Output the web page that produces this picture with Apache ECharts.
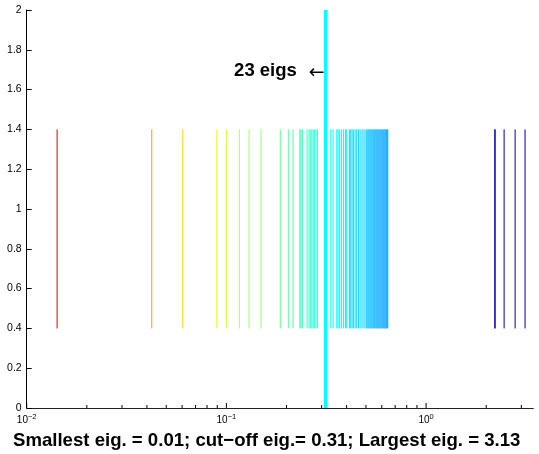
<!DOCTYPE html>
<html><head><meta charset="utf-8">
<script src="https://cdn.jsdelivr.net/npm/echarts@6/dist/echarts.min.js"></script>
<style>html,body{margin:0;padding:0;background:#fff}#c{width:539px;height:454px}</style>
</head><body><div id="c"></div>
<script>
// ---- data ----
const eigenvalues = [
  0.0142, 0.0423, 0.0605, 0.0895, 0.1000, 0.1161, 0.1299, 0.1492, 0.1863, 0.2043,
  0.2157, 0.2331, 0.2360, 0.2402, 0.2535, 0.2594, 0.2630, 0.2677, 0.2720, 0.2758,
  0.2810, 0.2855, 0.3130,
  0.3332, 0.3422, 0.3571, 0.3625, 0.3679, 0.3765, 0.3853, 0.3943, 0.4007, 0.4129,
  0.4196, 0.4259, 0.4324, 0.4410, 0.4497, 0.4581, 0.4671, 0.4780, 0.4891, 0.5006,
  0.5060, 0.5123, 0.5180, 0.5242, 0.5300, 0.5365, 0.5430, 0.5490, 0.5550, 0.5617,
  0.5680, 0.5749, 0.5810, 0.5883, 0.5950, 0.6020, 0.6090, 0.6160, 0.6230, 0.6304,
  0.6360, 0.6430,
  2.208, 2.218, 2.459, 2.792, 3.130
];
const cutoffEig = 0.3145;
const barLow = 0.4, barHigh = 1.4;
const cutLow = 0, cutHigh = 2;
const labelY = 1.695;
const countLabel = '23 eigs';
const titleText = 'Smallest eig. = 0.01; cut\u2212off eig.= 0.31; Largest eig. = 3.13';
const xMin = 0.01, xMax = 3.443;
const yMin = 0, yMax = 2, yStep = 0.2;
const xMajorTicks = [0.01, 0.1, 1];
const xMinorTicks = [0.02,0.03,0.04,0.05,0.06,0.07,0.08,0.09,0.2,0.3,0.4,0.5,0.6,0.7,0.8,0.9,2,3];

// ---- colours (jet colormap on log value, reversed) ----
function jet(t){
  const c = x => Math.max(0, Math.min(1, x));
  const r = c(Math.min(4*t - 1.5, -4*t + 4.5));
  const g = c(Math.min(4*t - 0.5, -4*t + 3.5));
  const b = c(Math.min(4*t + 0.5, -4*t + 2.5));
  return 'rgb(' + Math.round(r*255) + ',' + Math.round(g*255) + ',' + Math.round(b*255) + ')';
}
const lmin = Math.log10(Math.min(...eigenvalues)), lmax = Math.log10(Math.max(...eigenvalues));
const tHi = 0.906, tLo = 0.014;
function eigColor(v){
  const f = (Math.log10(v) - lmin) / (lmax - lmin);
  return jet(tHi - f*(tHi - tLo));
}

const FONT = '"Liberation Sans", Arial, Helvetica, sans-serif';
const chart = echarts.init(document.getElementById('c'), null, {renderer:'canvas'});
const isPow10 = v => Math.abs(Math.log10(v) - Math.round(Math.log10(v))) < 1e-6;

chart.setOption({
  animation: false,
  backgroundColor: '#fff',
  title: {
    text: titleText, left: 8, top: 426,
    textStyle: {fontFamily: FONT, fontWeight: 'bold', fontSize: 18.6, color: '#000'}
  },
  grid: {left: 26.7, right: 5.7, top: 10, bottom: 46},
  xAxis: {
    type: 'log', logBase: 10, min: xMin, max: xMax,
    axisLine: {show: true, lineStyle: {color: '#222', width: 1}},
    axisTick: {show: false},
    splitLine: {show: false},
    minorTick: {show: false},
    axisLabel: {
      showMaxLabel: false,
      margin: 5,
      fontFamily: FONT, fontSize: 10, color: '#000',
      formatter: v => isPow10(v) ? '10{s|' + Math.round(Math.log10(v)).toString().replace('-', '\u2212') + '}' : '',
      rich: {s: {fontSize: 7.5, fontFamily: FONT, color: '#000', verticalAlign: 'bottom', padding: [0,0,7,0]}}
    }
  },
  yAxis: {
    type: 'value', min: yMin, max: yMax, interval: yStep,
    axisLine: {show: true, lineStyle: {color: '#000', width: 1}},
    axisTick: {show: true, inside: true, length: 5, lineStyle: {color: '#000'}},
    splitLine: {show: false},
    axisLabel: {margin: 5, fontFamily: FONT, fontSize: 10.5, color: '#000'}
  },
  series: [
    {
      type: 'custom', coordinateSystem: 'cartesian2d', silent: true, clip: false,
      data: xMajorTicks.map(v => [v, 5]).concat(xMinorTicks.map(v => [v, 3])),
      encode: {x: 0},
      renderItem: (params, api) => {
        const p = api.coord([api.value(0), yMin]);
        const len = api.value(1);
        return {type: 'line', shape: {x1: p[0], y1: p[1], x2: p[0], y2: p[1] - len},
          style: {stroke: '#000', lineWidth: 1}};
      }
    },
    {
      type: 'custom', coordinateSystem: 'cartesian2d', silent: true,
      data: eigenvalues.map(v => [v]),
      encode: {x: 0},
      renderItem: (params, api) => {
        const v = api.value(0);
        const a = api.coord([v, barLow]), b = api.coord([v, barHigh]);
        return {type: 'line', shape: {x1: a[0], y1: a[1], x2: b[0], y2: b[1]},
          style: {stroke: eigColor(v), lineWidth: 1}};
      }
    },
    {
      type: 'custom', coordinateSystem: 'cartesian2d', silent: true,
      data: [[cutoffEig]],
      encode: {x: 0},
      renderItem: (params, api) => {
        const v = api.value(0);
        const a = api.coord([v, cutLow]), b = api.coord([v, cutHigh]);
        return {type: 'line', shape: {x1: a[0], y1: a[1], x2: b[0], y2: b[1]},
          style: {stroke: '#00ffff', lineWidth: 3.5}};
      }
    },
    {
      type: 'scatter', symbolSize: 0, silent: true,
      data: [[cutoffEig, labelY]],
      itemStyle: {opacity: 1},
      label: {
        show: true, position: 'left', distance: 1, color: '#000',
        formatter: '{b|' + countLabel + '}{g|}{a|\u2190}',
        rich: {
          b: {fontFamily: FONT, fontWeight: 'bold', fontSize: 18.5, color: '#000', verticalAlign: 'middle'},
          g: {width: 12},
          a: {fontFamily: '"DejaVu Sans", sans-serif', fontSize: 19, color: '#000', padding: [4,0,0,0]}
        }
      }
    }
  ]
});
</script></body></html>
